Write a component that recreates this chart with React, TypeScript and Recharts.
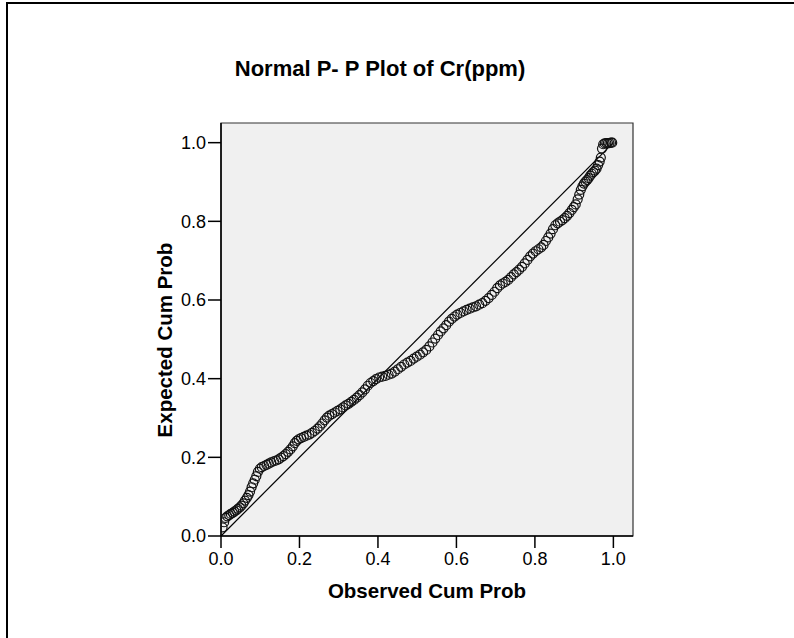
import {
  Label,
  ReferenceArea,
  ReferenceLine,
  Scatter,
  ScatterChart,
  XAxis,
  YAxis,
} from "recharts";

const observedCumProb = [
  0.004, 0.008, 0.012, 0.016, 0.021, 0.025, 0.03, 0.034, 0.039, 0.043,
  0.048, 0.052, 0.057, 0.061, 0.066, 0.07, 0.074, 0.078, 0.082, 0.086,
  0.09, 0.094, 0.099, 0.104, 0.11, 0.116, 0.122, 0.128, 0.135, 0.141,
  0.147, 0.153, 0.159, 0.165, 0.171, 0.177, 0.183, 0.188, 0.193, 0.198,
  0.204, 0.211, 0.218, 0.225, 0.232, 0.239, 0.246, 0.252, 0.258, 0.264,
  0.27, 0.276, 0.283, 0.29, 0.297, 0.304, 0.311, 0.318, 0.325, 0.332,
  0.339, 0.346, 0.353, 0.36, 0.367, 0.374, 0.381, 0.388, 0.395, 0.403,
  0.411, 0.419, 0.427, 0.435, 0.443, 0.451, 0.459, 0.467, 0.475, 0.483,
  0.491, 0.499, 0.507, 0.515, 0.523, 0.531, 0.539, 0.546, 0.553, 0.56,
  0.567, 0.574, 0.581, 0.588, 0.595, 0.602, 0.61, 0.618, 0.626, 0.634,
  0.642, 0.65, 0.658, 0.666, 0.674, 0.682, 0.69, 0.697, 0.704, 0.711,
  0.718, 0.725, 0.732, 0.739, 0.746, 0.753, 0.76, 0.767, 0.774, 0.781,
  0.788, 0.795, 0.802, 0.809, 0.816, 0.822, 0.828, 0.834, 0.84, 0.846,
  0.852, 0.858, 0.864, 0.87, 0.876, 0.882, 0.888, 0.894, 0.899, 0.904,
  0.909, 0.913, 0.917, 0.921, 0.925, 0.929, 0.933, 0.937, 0.941, 0.945,
  0.949, 0.953, 0.957, 0.961, 0.965, 0.968, 0.971, 0.974, 0.978, 0.982,
  0.986, 0.99, 0.994, 0.997,
];

const expectedCumProb = [
  0.022, 0.035, 0.046, 0.05, 0.053, 0.056, 0.059, 0.062, 0.065, 0.069,
  0.073, 0.077, 0.083, 0.09, 0.097, 0.104, 0.113, 0.124, 0.134, 0.143,
  0.152, 0.163, 0.171, 0.175, 0.178, 0.181, 0.184, 0.187, 0.19, 0.192,
  0.195, 0.199, 0.203, 0.208, 0.214, 0.22, 0.228, 0.236, 0.242, 0.246,
  0.249, 0.252, 0.255, 0.258, 0.262, 0.267, 0.273, 0.279, 0.286, 0.294,
  0.301, 0.306, 0.31, 0.314, 0.318, 0.322, 0.327, 0.332, 0.336, 0.341,
  0.346, 0.352, 0.358, 0.365, 0.373, 0.382, 0.389, 0.394, 0.399, 0.403,
  0.405, 0.407, 0.41, 0.413, 0.418, 0.424, 0.43, 0.436, 0.441, 0.445,
  0.451, 0.456, 0.461, 0.467, 0.473, 0.482, 0.492, 0.502, 0.511, 0.52,
  0.528, 0.536, 0.545, 0.552, 0.558, 0.563, 0.567, 0.571, 0.575, 0.578,
  0.581, 0.584, 0.588, 0.592, 0.598, 0.605, 0.613, 0.621, 0.63, 0.637,
  0.642, 0.646, 0.651, 0.658, 0.665, 0.671, 0.677, 0.684, 0.693, 0.702,
  0.711, 0.718, 0.724, 0.729, 0.734, 0.74, 0.75, 0.759, 0.769, 0.78,
  0.79, 0.795, 0.799, 0.803, 0.808, 0.814, 0.821, 0.829, 0.836, 0.843,
  0.856, 0.868, 0.88, 0.889, 0.896, 0.901, 0.905, 0.91, 0.916, 0.921,
  0.925, 0.929, 0.934, 0.943, 0.952, 0.962, 0.985, 0.996, 0.998, 0.999,
  0.999, 0.999, 1.0, 1.0,
];

const axisTicks = [0, 0.2, 0.4, 0.6, 0.8, 1.0];

const points = observedCumProb.map((x, i) => ({ x, y: expectedCumProb[i] }));

const font = "'Liberation Sans', Arial, Helvetica, sans-serif";

function Ring(props: any) {
  const { cx, cy } = props;
  if (cx == null || cy == null) return null;
  return <circle cx={cx} cy={cy} r={4.5} fill="none" stroke="#111" strokeWidth={1.2} />;
}

const tickStyle = { fill: "#000", fontSize: 18, fontFamily: font };

export default function App() {
  return (
    <div
      style={{
        position: "absolute",
        left: 0,
        top: 0,
        width: 794,
        height: 638,
        overflow: "hidden",
        background: "#fff",
        fontFamily: font,
      }}
    >
      {/* outer frame, only top and left edges show */}
      <div
        style={{
          position: "absolute",
          left: 6,
          top: 2,
          width: 900,
          height: 900,
          borderTop: "2px solid #000",
          borderLeft: "2px solid #000",
        }}
      />
      <svg
        width={794}
        height={100}
        style={{ position: "absolute", left: 0, top: 0 }}
      >
        <text
          x={380}
          y={76}
          textAnchor="middle"
          fontFamily={font}
          fontWeight="bold"
          fontSize={22}
          fill="#000"
        >
          Normal P- P Plot of Cr(ppm)
        </text>
      </svg>
      <div style={{ position: "absolute", left: 0, top: 0 }}>
        <ScatterChart
          width={794}
          height={638}
          margin={{ top: 123, right: 161, bottom: 72, left: 0 }}
        >
          <ReferenceArea
            x1={0}
            x2={1.05}
            y1={0}
            y2={1.05}
            fill="#f0f0f0"
            fillOpacity={1}
            stroke="#333"
            strokeWidth={1.2}
          />
          <XAxis
            type="number"
            dataKey="x"
            domain={[0, 1.05]}
            ticks={axisTicks}
            tickFormatter={(v: number) => v.toFixed(1)}
            tick={tickStyle}
            tickSize={12}
            tickMargin={4}
            height={30}
            axisLine={{ stroke: "#000", strokeWidth: 1.5 }}
            tickLine={{ stroke: "#000", strokeWidth: 1.5 }}
            allowDataOverflow
          >
            <Label
              content={() => (
                <text
                  x={427}
                  y={598}
                  textAnchor="middle"
                  fontFamily={font}
                  fontWeight="bold"
                  fontSize={20.5}
                  fill="#000"
                >
                  Observed Cum Prob
                </text>
              )}
            />
          </XAxis>
          <YAxis
            type="number"
            dataKey="y"
            domain={[0, 1.05]}
            ticks={axisTicks}
            tickFormatter={(v: number) => v.toFixed(1)}
            tick={tickStyle}
            tickSize={13}
            tickMargin={2}
            width={221}
            axisLine={{ stroke: "#000", strokeWidth: 1.5 }}
            tickLine={{ stroke: "#000", strokeWidth: 1.5 }}
            allowDataOverflow
          >
            <Label
              content={() => (
                <text
                  x={172}
                  y={340}
                  transform="rotate(-90 172 340)"
                  textAnchor="middle"
                  fontFamily={font}
                  fontWeight="bold"
                  fontSize={20.5}
                  fill="#000"
                >
                  Expected Cum Prob
                </text>
              )}
            />
          </YAxis>
          <ReferenceLine
            segment={[
              { x: 0, y: 0 },
              { x: 1, y: 1 },
            ]}
            stroke="#000"
            strokeWidth={1.2}
          />
          <Scatter data={points} shape={Ring} isAnimationActive={false} />
        </ScatterChart>
      </div>
    </div>
  );
}
